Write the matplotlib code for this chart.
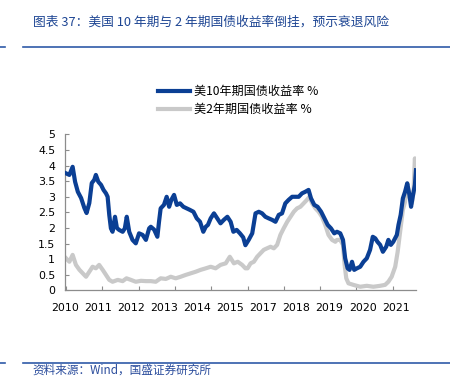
import numpy as np
import matplotlib
matplotlib.use("Agg")
import matplotlib.pyplot as plt
from matplotlib.lines import Line2D

plt.rcParams['font.family'] = ['DejaVu Sans', 'Noto Sans CJK SC']
cjk = ['Noto Sans CJK SC', 'DejaVu Sans']

# данные: годы от начала 2010
x10 = [0.00, 0.12, 0.24, 0.33, 0.43, 0.55, 0.67, 0.75, 0.85, 0.94, 1.03, 1.09, 1.18, 1.28, 1.37,
       1.46, 1.52, 1.58, 1.64, 1.70, 1.79, 1.86, 1.94, 2.07, 2.15, 2.22, 2.31, 2.43, 2.55, 2.67,
       2.80, 2.92, 3.04, 3.10, 3.22, 3.34, 3.40, 3.46, 3.58, 3.68, 3.77, 3.85, 3.95, 4.05, 4.17,
       4.29, 4.41, 4.53, 4.66, 4.78, 4.90, 5.02, 5.11, 5.19, 5.29, 5.41, 5.53, 5.65, 5.77, 5.90,
       6.02, 6.12, 6.24, 6.36, 6.48, 6.56, 6.68, 6.81, 6.93, 7.05, 7.17, 7.29, 7.41, 7.54, 7.66,
       7.78, 7.90, 8.02, 8.14, 8.27, 8.39, 8.51, 8.63, 8.75, 8.87, 8.96, 9.08, 9.20, 9.33, 9.45,
       9.57, 9.69, 9.81, 9.91, 10.03, 10.13, 10.21, 10.30, 10.37, 10.46, 10.54, 10.64, 10.76, 10.88,
       11.00, 11.12, 11.22, 11.31, 11.39, 11.49, 11.59, 11.71, 11.79, 11.88, 11.97, 12.10, 12.16,
       12.24, 12.32, 12.40, 12.48, 12.56, 12.62, 12.68, 12.76, 12.80]
y10 = [3.75, 3.70, 3.96, 3.48, 3.16, 2.96, 2.64, 2.48, 2.80, 3.44, 3.54, 3.70, 3.48, 3.38, 3.22,
       3.11, 3.00, 2.42, 1.99, 1.88, 2.36, 2.00, 1.94, 1.88, 1.99, 2.36, 1.88, 1.62, 1.51, 1.83,
       1.78, 1.62, 1.99, 2.04, 1.95, 1.72, 2.20, 2.63, 2.74, 3.00, 2.68, 2.90, 3.06, 2.74, 2.79,
       2.68, 2.63, 2.58, 2.52, 2.31, 2.20, 1.88, 2.04, 2.10, 2.31, 2.47, 2.31, 2.15, 2.26, 2.36,
       2.20, 1.88, 1.94, 1.83, 1.70, 1.45, 1.62, 1.83, 2.47, 2.52, 2.47, 2.36, 2.31, 2.26, 2.20,
       2.42, 2.47, 2.79, 2.90, 3.00, 3.00, 3.00, 3.11, 3.16, 3.22, 2.95, 2.74, 2.68, 2.52, 2.31,
       2.10, 1.99, 1.83, 1.88, 1.83, 1.62, 1.03, 0.71, 0.66, 0.92, 0.66, 0.71, 0.76, 0.92,
       1.03, 1.30, 1.72, 1.67, 1.56, 1.46, 1.24, 1.40, 1.62, 1.46, 1.56, 1.78, 2.10,
       2.42, 2.95, 3.16, 3.43, 3.06, 2.68, 3.00, 3.38, 3.85]

x2 = [0.00, 0.12, 0.24, 0.36, 0.49, 0.61, 0.73, 0.85, 0.97, 1.09, 1.21, 1.34, 1.46, 1.58, 1.70,
      1.89, 2.07, 2.21, 2.37, 2.55, 2.74, 2.92, 3.10, 3.28, 3.46, 3.65, 3.83, 4.01, 4.19, 4.38,
      4.56, 4.74, 4.92, 5.11, 5.29, 5.47, 5.65, 5.84, 5.99, 6.14, 6.28, 6.44, 6.56, 6.64, 6.75,
      6.87, 6.99, 7.11, 7.23, 7.35, 7.48, 7.60, 7.72, 7.84, 7.96, 8.09, 8.21, 8.33, 8.45, 8.57,
      8.69, 8.81, 8.90, 9.00, 9.12, 9.24, 9.36, 9.48, 9.60, 9.73, 9.85, 9.91, 10.03, 10.13, 10.19,
      10.25, 10.33, 10.51, 10.76, 11.00, 11.24, 11.49, 11.67, 11.79, 11.91, 12.04, 12.13, 12.22,
      12.32, 12.40, 12.48, 12.56, 12.65, 12.71, 12.76, 12.80]
y2 = [1.03, 0.92, 1.14, 0.82, 0.66, 0.55, 0.44, 0.60, 0.76, 0.71, 0.82, 0.66, 0.50, 0.34, 0.28,
      0.34, 0.30, 0.39, 0.34, 0.28, 0.31, 0.30, 0.30, 0.28, 0.39, 0.37, 0.44, 0.39, 0.44, 0.50,
      0.55, 0.60, 0.66, 0.71, 0.76, 0.71, 0.82, 0.87, 1.08, 0.87, 0.92, 0.82, 0.71, 0.71, 0.87,
      0.92, 1.08, 1.19, 1.30, 1.35, 1.40, 1.35, 1.46, 1.78, 1.99, 2.20, 2.36, 2.52, 2.63, 2.68,
      2.79, 2.90, 3.00, 2.79, 2.63, 2.52, 2.36, 2.10, 1.78, 1.62, 1.56, 1.62, 1.62, 1.46, 0.82,
      0.39, 0.23, 0.18, 0.12, 0.15, 0.12, 0.15, 0.18, 0.28, 0.44, 0.76, 1.24, 1.88,
      2.58, 2.84, 3.43, 3.00, 2.79, 3.16, 4.23, 3.91]

year_labels = ["2010", "2011", "2012", "2013", "2014", "2015", "2017", "2018", "2019", "2020", "2021"]
name10 = "美10年期国债收益率 %"
name2 = "美2年期国债收益率 %"

fig = plt.figure(figsize=(4.5, 3.76), dpi=100)
ax = fig.add_axes([0.1444, 0.2274, 0.78, 0.4154])

ax.plot(x2, y2, color="#c9c9c9", lw=3.0, label=name2, zorder=2)
ax.plot(x10, y10, color="#0b3f94", lw=3.0, label=name10, zorder=3)

ax.set_xlim(0, 12.8)
ax.set_ylim(0, 5)
ax.set_yticks(np.arange(0, 5.01, 0.5))
ax.set_yticklabels(["%g" % v for v in np.arange(0, 5.01, 0.5)])
# засечки и подписи оси X стоят в разных местах, как в оригинале
ax.set_xticks(np.arange(0, 12.8, 1.328))
ax.set_xticklabels([])
ax.set_xticks(np.arange(len(year_labels)) * 1.21 - 0.04, minor=True)
ax.set_xticklabels(year_labels, minor=True)
ax.tick_params(axis="x", which="minor", length=0, pad=9, labelsize=7.9)
ax.tick_params(axis="x", which="major", direction="in", length=3, color="#8c8c8c")
ax.tick_params(axis="y", direction="in", length=3, color="#8c8c8c", pad=7, labelsize=7.9)

for s in ["top", "right"]:
    ax.spines[s].set_visible(False)
for s in ["left", "bottom"]:
    ax.spines[s].set_color("#8c8c8c")
    ax.spines[s].set_linewidth(0.9)

# легенда сверху
h, l = ax.get_legend_handles_labels()
leg = fig.legend(h[::-1], l[::-1], loc="upper left", bbox_to_anchor=(0.338, 0.789),
                 frameon=False, handlelength=2.6, handletextpad=0.35, labelspacing=0.4,
                 borderpad=0, prop={"family": cjk, "size": 8.7})

# заголовок и подпись источника
fig.text(0.073, 0.94, "图表 37：美国 10 年期与 2 年期国债收益率倒挂，预示衰退风险",
         family=cjk, fontsize=9.2, style="italic", color="#1d4593", va="center")
fig.text(0.073, 0.016, "资料来源：Wind，国盛证券研究所",
         family=cjk, fontsize=8.4, style="italic", color="#2a4c9c", va="center")

blue = "#2f5aa8"
for yy in [0.8758, 0.0354]:
    fig.add_artist(Line2D([0.051, 1.0], [yy, yy], transform=fig.transFigure, color=blue, lw=1.2))
    fig.add_artist(Line2D([0.0, 0.011], [yy, yy], transform=fig.transFigure, color=blue, lw=1.2))

fig.savefig("out.png", dpi=100)
